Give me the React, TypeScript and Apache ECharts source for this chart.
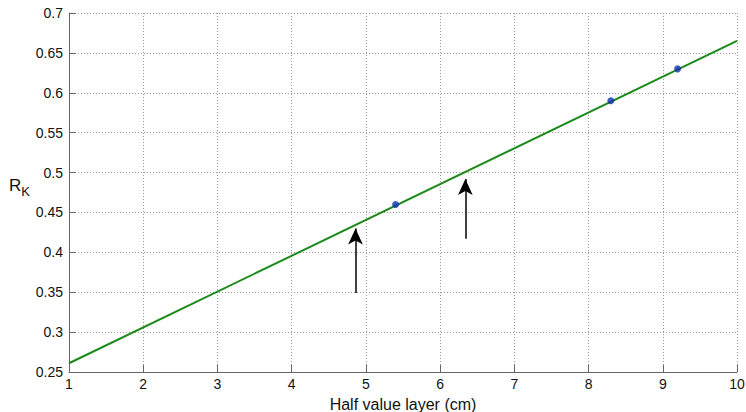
import React, { useEffect, useRef } from "react";
import * as echarts from "echarts";

const fitLine: number[][] = [
  [1, 0.261],
  [10, 0.665],
];
const measured: number[][] = [
  [5.4, 0.46],
  [8.3, 0.59],
  [9.2, 0.63],
];
const arrows: number[][][] = [
  [
    [4.86, 0.349],
    [4.86, 0.43],
  ],
  [
    [6.34, 0.417],
    [6.34, 0.492],
  ],
];

const FONT = "'Liberation Sans', Arial, Helvetica, sans-serif";

export default function App() {
  const ref = useRef<HTMLDivElement>(null);
  useEffect(() => {
    if (!ref.current) return;
    const chart = echarts.init(ref.current, undefined, { renderer: "svg" });
    chart.setOption({
      animation: false,
      backgroundColor: "#ffffff",
      grid: {
        left: 69,
        top: 13,
        right: 9,
        bottom: 40,
        containLabel: false,
        outerBoundsMode: "none",
      },
      xAxis: {
        type: "value",
        min: 1,
        max: 10,
        interval: 1,
        name: "Half value layer (cm)",
        nameLocation: "middle",
        nameGap: 21,
        nameTextStyle: { fontFamily: FONT, fontSize: 16, color: "#111", lineHeight: 18 },
        axisLine: { show: true, lineStyle: { color: "#666", width: 1 } },
        axisTick: { show: true, inside: true, length: 7, lineStyle: { color: "#666" } },
        axisLabel: { fontFamily: FONT, fontSize: 14, color: "#111", margin: 5 },
        splitLine: { show: true, lineStyle: { color: "#999", type: [1, 2], width: 1 } },
      },
      yAxis: {
        type: "value",
        min: 0.25,
        max: 0.7,
        interval: 0.05,
        name: "R{sub|K}",
        nameLocation: "middle",
        nameRotate: 0,
        nameGap: 38,
        nameTextStyle: {
          fontFamily: FONT,
          fontSize: 17,
          color: "#111",
          padding: [0, 0, 14, 0],
          rich: {
            sub: { fontFamily: FONT, fontSize: 13, color: "#111", verticalAlign: "bottom", padding: [12, 0, 0, 0] },
          },
        },
        axisLine: { show: true, lineStyle: { color: "#666", width: 1 } },
        axisTick: { show: true, inside: true, length: 7, lineStyle: { color: "#666" } },
        axisLabel: {
          fontFamily: FONT,
          fontSize: 14,
          color: "#111",
          margin: 6,
          formatter: (v: number) => String(parseFloat(v.toFixed(2))),
        },
        splitLine: { show: true, lineStyle: { color: "#999", type: [1, 2], width: 1 } },
      },
      series: [
        {
          type: "line",
          data: fitLine,
          symbol: "none",
          lineStyle: { color: "#1a8a1a", width: 2 },
          z: 3,
          markLine: {
            silent: true,
            symbol: ["none", "arrow"],
            symbolSize: [11, 16],
            label: { show: false },
            lineStyle: { color: "#000", width: 1.5, type: "solid" },
            data: arrows.map((a) => [{ coord: a[0] }, { coord: a[1] }]),
          },
        },
        {
          type: "scatter",
          data: measured,
          symbol: "circle",
          symbolSize: 7,
          itemStyle: { color: "#1030b0" },
          z: 4,
        },
      ],
    });
    return () => chart.dispose();
  }, []);
  return (
    <div
      ref={ref}
      style={{ position: "fixed", left: 0, top: 0, width: 746, height: 412 }}
    />
  );
}
